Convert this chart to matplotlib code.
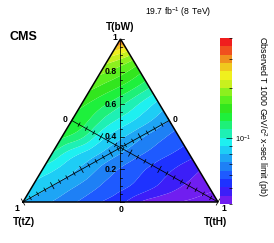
import numpy as np
import matplotlib
matplotlib.use("Agg")
import matplotlib.pyplot as plt
import matplotlib.tri as mtri
from matplotlib.colors import ListedColormap, LogNorm
from matplotlib.cm import ScalarMappable
from matplotlib.ticker import LogLocator, FixedFormatter, NullFormatter, FixedLocator

plt.rcParams['font.family'] = ['Liberation Sans', 'DejaVu Sans']
plt.rcParams['mathtext.fontset'] = 'custom'
plt.rcParams['mathtext.rm'] = 'Liberation Sans'
plt.rcParams['mathtext.it'] = 'Liberation Sans:italic'
plt.rcParams['mathtext.bf'] = 'Liberation Sans:bold'

# ---- data: observed limit (pb) on a grid of branching fractions ----
# rows: B(bW) = 0.0 ... 1.0 ; within a row: B(tH) = 0.0, 0.1, ... , 1 - B(bW)
bw_values = [0.0, 0.1, 0.2, 0.3, 0.4, 0.5, 0.6, 0.7, 0.8, 0.9, 1.0]
th_step = 0.1
limit_rows = [
    [0.0798, 0.0736, 0.0679, 0.0620, 0.0565, 0.0521, 0.0449, 0.0414, 0.0400, 0.0386, 0.0378],
    [0.0875, 0.0798, 0.0728, 0.0664, 0.0605, 0.0565, 0.0521, 0.0475, 0.0439, 0.0414],
    [0.0960, 0.0865, 0.0780, 0.0695, 0.0627, 0.0578, 0.0533, 0.0492, 0.0454],
    [0.1127, 0.0949, 0.0845, 0.0753, 0.0679, 0.0620, 0.0572, 0.0533],
    [0.1294, 0.1154, 0.0938, 0.0817, 0.0728, 0.0656, 0.0598],
    [0.1387, 0.1236, 0.1040, 0.0916, 0.0807, 0.0711],
    [0.1452, 0.1309, 0.1154, 0.0993, 0.0855],
    [0.1630, 0.1469, 0.1309, 0.1127],
    [0.1850, 0.1667, 0.1452],
    [0.2302, 0.2005],
    [0.3565],
]
z_min, z_max = 0.04, 0.40
palette = ['#701ef0', '#3c1ef8', '#1e32ff', '#1e5aff', '#1e80f5', '#1ea5f5',
           '#1ecdf5', '#1ef0f0', '#1ef0b4', '#1ef078', '#1ef03c', '#32e61e',
           '#5af01e', '#8cf01e', '#c8f01e', '#f0f01e', '#f0c81e', '#f0901e',
           '#f0501e', '#f01e1e']
title_right = "19.7 fb$^{-1}$ (8 TeV)"
z_label = "Observed T 1000 GeV/c$^{2}$ x-sec limit (pb)"

W, H = 274, 243
fig = plt.figure(figsize=(W / 100, H / 100), dpi=100)
x0, x1, ytop, ybot = 23, 218, 39, 202
ax = fig.add_axes([x0 / W, 1 - ybot / H, (x1 - x0) / W, (ybot - ytop) / H])
ax.set_xlim(0, 1)
ax.set_ylim(0, 1)
ax.axis('off')

# points
xs, ys, vs = [], [], []
for b, row in zip(bw_values, limit_rows):
    for i, v in enumerate(row):
        h = i * th_step
        xs.append(h + b / 2)
        ys.append(b)
        vs.append(v)
xs, ys, vs = map(np.array, (xs, ys, vs))
tri = mtri.Triangulation(xs, ys)
refiner = mtri.UniformTriRefiner(tri)
tri_r, lz_r = refiner.refine_field(np.log10(vs), subdiv=3)

cmap = ListedColormap(palette)
cmap.set_under(palette[0])
cmap.set_over(palette[-1])
levels = np.linspace(np.log10(z_min), np.log10(z_max), len(palette) + 1)
ax.tricontourf(tri_r, lz_r, levels=levels, cmap=cmap, extend='both',
               vmin=levels[0], vmax=levels[-1], antialiased=True)

# pixel scale helpers
sx, sy = (x1 - x0), (ybot - ytop)


def tick_seg(px, py, dx, dy, l1, l2):
    ddx, ddy = dx * sx, dy * sy
    n = np.hypot(ddx, ddy)
    nx, ny = -ddy / n, ddx / n
    return ([px - nx * l1 / sx, px + nx * l2 / sx], [py - ny * l1 / sy, py + ny * l2 / sy])


lw_ax = 0.55
# vertical bW axis
ax.plot([0.5, 0.5], [0, 1], color='k', lw=lw_ax, clip_on=False)
for k in range(21):
    t = k * 0.05
    ln = 4 if k % 4 == 0 else 2
    ax.plot([0.5, 0.5 + ln / sx], [t, t], color='k', lw=lw_ax, clip_on=False)
# diagonal axes
for (vx, vy), (mx, my) in [((0, 0), (0.75, 0.5)), ((1, 0), (0.25, 0.5))]:
    ax.plot([vx, mx], [vy, my], color='k', lw=lw_ax, clip_on=False)
    for k in range(21):
        t = k * 0.05
        px = vx + (1 - t) * (mx - vx)
        py = vy + (1 - t) * (my - vy)
        ln = 3.5 if k % 4 == 0 else 2.0
        sxs, sys_ = tick_seg(px, py, mx - vx, my - vy, ln, ln)
        ax.plot(sxs, sys_, color='k', lw=lw_ax, clip_on=False)

# triangle outline
ax.plot([0, 1, 0.5, 0], [0, 0, 1, 0], color='k', lw=1.1, clip_on=False,
        solid_joinstyle='miter')


def ftext(x, y, s, **kw):
    fig.text(x / W, 1 - y / H, s, **kw)


bold = dict(fontweight='bold')
for val in [0.2, 0.4, 0.6, 0.8]:
    ftext(117, ybot - val * sy, f"{val:.1f}", ha='right', va='center', fontsize=6.2, **bold)
ftext(117, 37, "1", ha='right', va='center', fontsize=6.2, **bold)
ftext(121, 209, "0", ha='center', va='center', fontsize=6.2, **bold)
ftext(17, 208, "1", ha='center', va='center', fontsize=6.2, **bold)
ftext(224, 208, "1", ha='center', va='center', fontsize=6.2, **bold)
ftext(65, 119, "0", ha='center', va='center', fontsize=6.2, **bold)
ftext(175, 119, "0", ha='center', va='center', fontsize=6.2, **bold)
ftext(120, 27, "T(bW)", ha='center', va='center', fontsize=7.2, **bold)
ftext(24, 222, "T(tZ)", ha='center', va='center', fontsize=7.2, **bold)
ftext(215, 222, "T(tH)", ha='center', va='center', fontsize=7.2, **bold)
ftext(9, 37, "CMS", ha='left', va='center', fontsize=9, **bold)
ftext(178, 12, title_right, ha='center', va='center', fontsize=6.2)

# colour bar
cax = fig.add_axes([220 / W, 1 - 204 / H, 12 / W, 166 / H])
sm = ScalarMappable(norm=LogNorm(z_min, z_max), cmap=ListedColormap(palette))
cb = fig.colorbar(sm, cax=cax)
cb.outline.set_visible(False)
cax.yaxis.set_ticks_position('right')
cax.yaxis.set_major_locator(FixedLocator([0.1]))
cax.yaxis.set_major_formatter(FixedFormatter(["10$^{-1}$"]))
cax.yaxis.set_minor_locator(LogLocator(base=10, subs=np.arange(2, 10)))
cax.yaxis.set_minor_formatter(NullFormatter())
cax.tick_params(axis='y', which='major', direction='in', length=4, width=0.5,
                labelsize=5.2, pad=2)
cax.tick_params(axis='y', which='minor', direction='in', length=2, width=0.5)
ftext(262, 117, z_label, ha='center', va='center', rotation=-90, fontsize=6.4)

fig.savefig("out.png", dpi=100)
